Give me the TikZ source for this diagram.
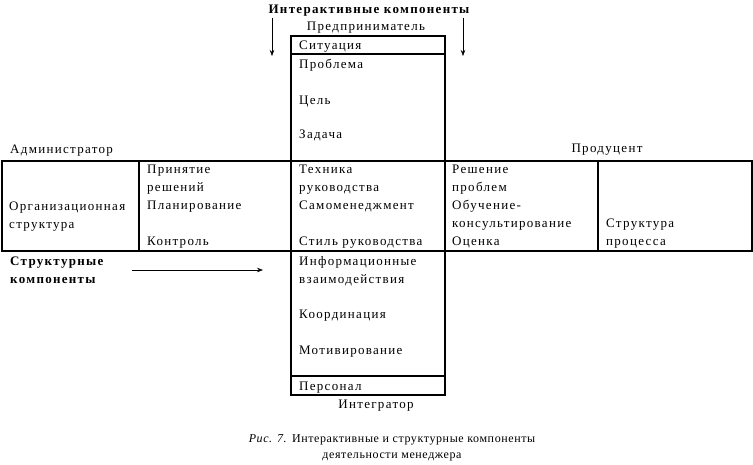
\documentclass[tikz,border=0pt]{standalone}
\usepackage{fontspec}
\setmainfont{Liberation Serif}[LetterSpace=10]
\newfontfamily\capfont{Liberation Serif}[LetterSpace=5]
\usetikzlibrary{positioning, arrows.meta}

\begin{document}
\begin{tikzpicture}[
    x=1pt, y=-1pt,
    frame/.style={draw, line width=1.6pt},
    side/.style={draw, line width=1.2pt},
    word/.style={anchor=base west, inner sep=0pt, font=\fontsize{13}{15}\selectfont},
    mid/.style={anchor=base, inner sep=0pt, font=\fontsize{13}{15}\selectfont},
    title/.style={word, font=\fontsize{13}{15}\selectfont\bfseries},
    caption/.style={anchor=base, inner sep=0pt, font=\capfont\fontsize{12}{14}\selectfont},
    pointer/.style={draw, line width=0.6pt, -{Stealth[length=6pt, width=4.5pt]}},
]
\useasboundingbox (0,0) rectangle (753,464);

% Frames
\draw[frame] (291,36) rectangle (445,54);
\draw[side] (291,54) -- (291,376) (445,54) -- (445,376);
\draw[frame] (2,161) rectangle (752,251);
\draw[frame] (139,161) -- (139,251) (598,161) -- (598,251);
\draw[frame] (291,376) rectangle (445,395);

% Interactive components
\node[title, anchor=base] (inter) at (369,13) {Интерактивные компоненты};
\node[mid] (entre) at (366,30) {Предприниматель};
\node[word] (situation) at (299,49) {Ситуация};
\node[word] (problem) at (299,68) {Проблема};
\node[word] (goal) at (299,104) {Цель};
\node[word] (task) at (299,138) {Задача};

\node[word] (admin) at (10,153) {Администратор};
\node[mid] (produc) at (607,152) {Продуцент};

% Row
\node[word] (org1) at (9,210) {Организационная};
\node[word] (org2) at (9,228) {структура};

\node[word] (dec1) at (147,173) {Принятие};
\node[word] (dec2) at (147,191) {решений};
\node[word] (plan) at (147,209) {Планирование};
\node[word] (control) at (147,245) {Контроль};

\node[word] (tech1) at (299,173) {Техника};
\node[word] (tech2) at (299,191) {руководства};
\node[word] (selfm) at (299,209) {Самоменеджмент};
\node[word] (style) at (299,245) {Стиль руководства};

\node[word] (solve1) at (452,173) {Решение};
\node[word] (solve2) at (452,191) {проблем};
\node[word] (teach1) at (452,209) {Обучение-};
\node[word] (teach2) at (452,227) {консультирование};
\node[word] (rate) at (452,245) {Оценка};

\node[word] (proc1) at (606,227) {Структура};
\node[word] (proc2) at (606,245) {процесса};

% Structural components
\node[title] (struct1) at (10,265) {Структурные};
\node[title] (struct2) at (10,283) {компоненты};

\node[word] (info1) at (299,265) {Информационные};
\node[word] (info2) at (299,283) {взаимодействия};
\node[word] (coord) at (299,318) {Координация};
\node[word] (motiv) at (299,354) {Мотивирование};
\node[word] (staff) at (299,390) {Персонал};
\node[mid] (integ) at (376,408) {Интегратор};

% Caption
\node[caption] (cap1) at (392,442) {\textit{Рис. 7.} Интерактивные и структурные компоненты};
\node[caption] (cap2) at (392,458) {деятельности менеджера};

% Arrows
\coordinate (inL) at (272,18);
\coordinate (inLend) at (272,56);
\coordinate (inR) at (463,18);
\coordinate (inRend) at (463,56);
\coordinate (stIn) at (132,270);
\coordinate (stEnd) at (263,270);
\draw[pointer] (inL) -- (inLend);
\draw[pointer] (inR) -- (inRend);
\draw[pointer] (stIn) -- (stEnd);

\end{tikzpicture}
\end{document}
